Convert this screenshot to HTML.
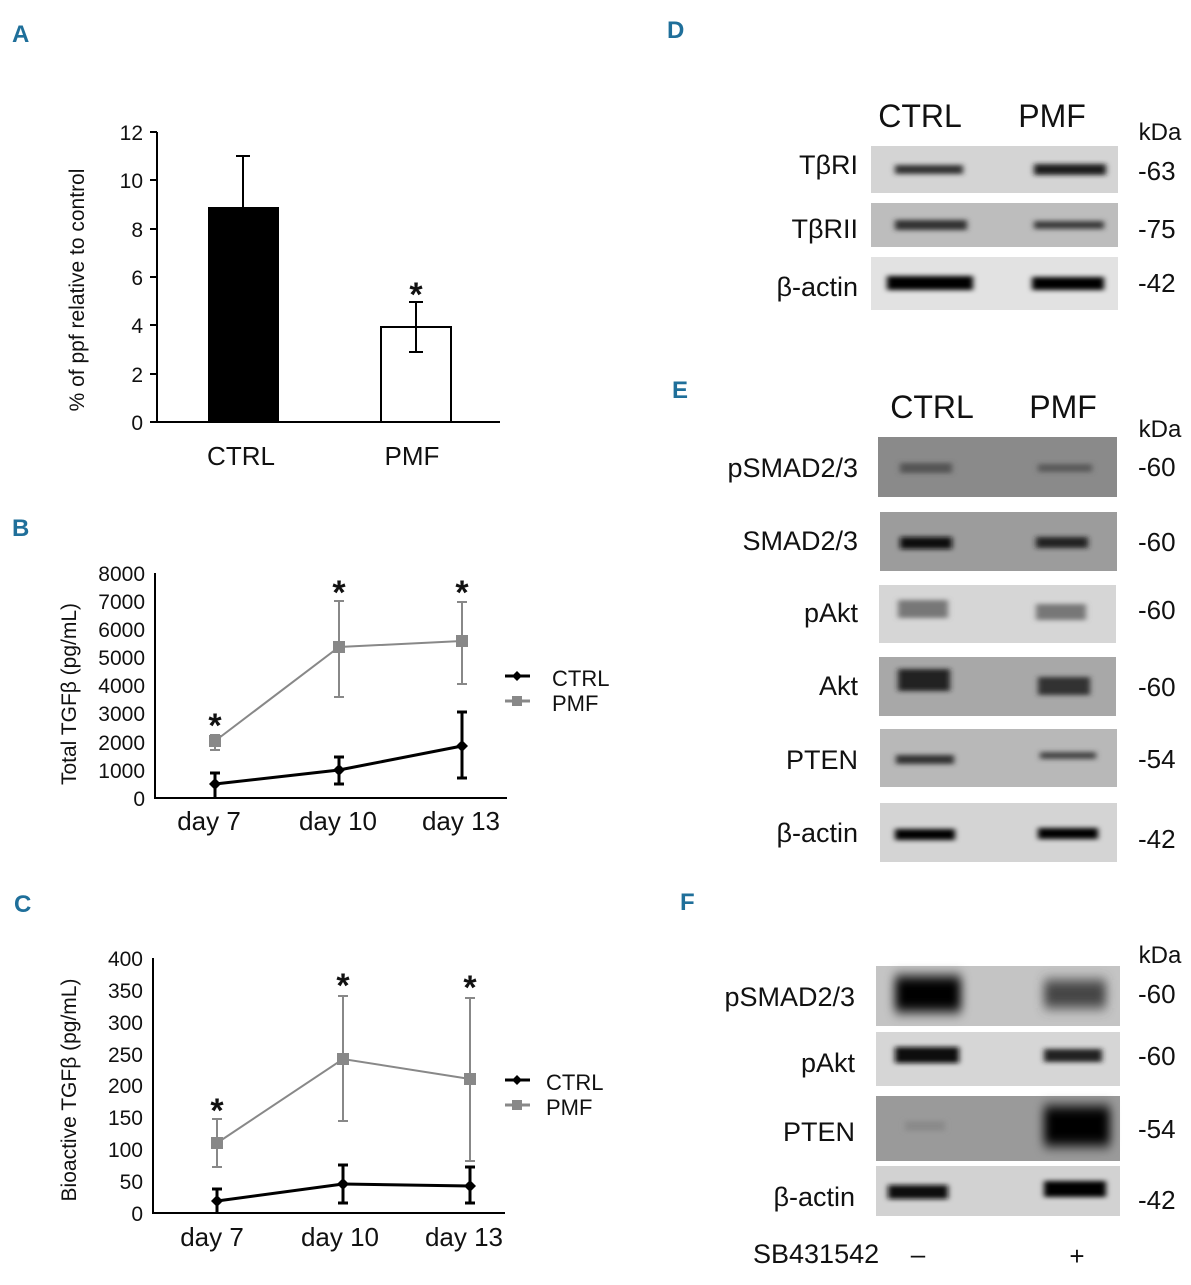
<!DOCTYPE html>
<html><head><meta charset="utf-8"><style>
body{margin:0;background:#fff}
text{font-family:"Liberation Sans Narrow","Liberation Sans",sans-serif;fill:#111}
.L{font-weight:bold;fill:#1f6f9a;font-size:24px}
.s{font-size:34px;font-weight:bold}
</style></head><body>
<svg width="1191" height="1280" viewBox="0 0 1191 1280" xmlns="http://www.w3.org/2000/svg">
<defs>
<filter id="b" x="-20%" y="-100%" width="140%" height="300%"><feGaussianBlur stdDeviation="3 2.5"/></filter>
<filter id="b2" x="-20%" y="-50%" width="140%" height="200%"><feGaussianBlur stdDeviation="5 6"/></filter>
</defs>
<rect width="1191" height="1280" fill="#fff"/>
<text class="L" x="12" y="42">A</text>
<text class="L" x="12" y="536">B</text>
<text class="L" x="14" y="912">C</text>
<text class="L" x="667" y="38">D</text>
<text class="L" x="672" y="398">E</text>
<text class="L" x="680" y="910">F</text>

<!-- A -->
<g stroke="#000" stroke-width="2" fill="none">
<path d="M157 132V422H500"/>
<path d="M150 132h7M150 180h7M150 229h7M150 277h7M150 325h7M150 374h7M150 422h7"/>
</g>
<g font-size="21" text-anchor="end">
<text x="143" y="140">12</text><text x="143" y="188">10</text><text x="143" y="237">8</text><text x="143" y="285">6</text><text x="143" y="333">4</text><text x="143" y="382">2</text><text x="143" y="430">0</text>
</g>
<text font-size="21" transform="translate(84,290) rotate(-90)" text-anchor="middle">% of ppf relative to control</text>
<rect x="208" y="207" width="71" height="215" fill="#000"/>
<path d="M243 207V156M236 156h14" stroke="#000" stroke-width="2"/>
<rect x="381" y="327" width="70" height="95" fill="#fff" stroke="#000" stroke-width="2"/>
<path d="M416 327V302M409 302h14M416 327V352M409 352h14" stroke="#000" stroke-width="2"/>
<text class="s" x="416" y="306" text-anchor="middle">*</text>
<text x="241" y="465" font-size="26" text-anchor="middle">CTRL</text>
<text x="412" y="465" font-size="26" text-anchor="middle">PMF</text>

<!-- B -->
<g stroke="#000" stroke-width="2" fill="none"><path d="M155 573V798H507"/></g>
<g font-size="21" text-anchor="end">
<text x="145" y="581">8000</text><text x="145" y="609">7000</text><text x="145" y="637">6000</text><text x="145" y="665">5000</text><text x="145" y="693">4000</text><text x="145" y="721">3000</text><text x="145" y="750">2000</text><text x="145" y="778">1000</text><text x="145" y="806">0</text>
</g>
<text font-size="21" transform="translate(76,694) rotate(-90)" text-anchor="middle">Total TGFβ (pg/mL)</text>
<g stroke="#888" stroke-width="2" fill="none">
<path d="M215 741L339 647L462 641"/>
<path d="M215 735V750M210 735h10M210 750h10M339 601V697M334 601h10M334 697h10M462 602V684M457 602h10M457 684h10"/>
</g>
<g fill="#888"><rect x="209" y="735" width="12" height="12"/><rect x="333" y="641" width="12" height="12"/><rect x="456" y="635" width="12" height="12"/></g>
<g stroke="#000" stroke-width="3" fill="none">
<path d="M215 784L339 770L462 746"/>
<path d="M215 798V773M210 773h10M339 784V757M334 784h10M334 757h10M462 778V712M457 778h10M457 712h10"/>
</g>
<g fill="#000"><path d="M215 778l6 6-6 6-6-6z"/><path d="M339 764l6 6-6 6-6-6z"/><path d="M462 740l6 6-6 6-6-6z"/></g>
<g class="s" text-anchor="middle"><text class="s" x="215" y="737">*</text><text class="s" x="339" y="604">*</text><text class="s" x="462" y="604">*</text></g>
<g font-size="26" text-anchor="middle"><text x="209" y="830">day 7</text><text x="338" y="830">day 10</text><text x="461" y="830">day 13</text></g>
<path d="M505 676h25" stroke="#000" stroke-width="3"/><path d="M517 671l5 5-5 5-5-5z"/>
<path d="M505 701h25" stroke="#888" stroke-width="3"/><rect x="512" y="696" width="10" height="10" fill="#888"/>
<text x="552" y="686" font-size="22">CTRL</text><text x="552" y="711" font-size="22">PMF</text>

<!-- C -->
<g stroke="#000" stroke-width="2" fill="none"><path d="M153 958V1213H505"/></g>
<g font-size="21" text-anchor="end">
<text x="143" y="966">400</text><text x="143" y="998">350</text><text x="143" y="1030">300</text><text x="143" y="1062">250</text><text x="143" y="1093">200</text><text x="143" y="1125">150</text><text x="143" y="1157">100</text><text x="143" y="1189">50</text><text x="143" y="1221">0</text>
</g>
<text font-size="21" transform="translate(76,1090) rotate(-90)" text-anchor="middle">Bioactive TGFβ (pg/mL)</text>
<g stroke="#888" stroke-width="2" fill="none">
<path d="M217 1143L343 1059L470 1079"/>
<path d="M217 1167V1119M212 1119h10M212 1167h10M343 1121V996M338 996h10M338 1121h10M470 1161V998M465 998h10M465 1161h10"/>
</g>
<g fill="#888"><rect x="211" y="1137" width="12" height="12"/><rect x="337" y="1053" width="12" height="12"/><rect x="464" y="1073" width="12" height="12"/></g>
<g stroke="#000" stroke-width="3" fill="none">
<path d="M217 1201L343 1184L470 1186"/>
<path d="M217 1213V1189M212 1189h10M343 1203V1165M338 1203h10M338 1165h10M470 1203V1167M465 1203h10M465 1167h10"/>
</g>
<g fill="#000"><path d="M217 1195l6 6-6 6-6-6z"/><path d="M343 1178l6 6-6 6-6-6z"/><path d="M470 1180l6 6-6 6-6-6z"/></g>
<g text-anchor="middle"><text class="s" x="217" y="1122">*</text><text class="s" x="343" y="997">*</text><text class="s" x="470" y="999">*</text></g>
<g font-size="26" text-anchor="middle"><text x="212" y="1246">day 7</text><text x="340" y="1246">day 10</text><text x="464" y="1246">day 13</text></g>
<path d="M505 1080h25" stroke="#000" stroke-width="3"/><path d="M517 1075l5 5-5 5-5-5z"/>
<path d="M505 1105h25" stroke="#888" stroke-width="3"/><rect x="512" y="1100" width="10" height="10" fill="#888"/>
<text x="546" y="1090" font-size="22">CTRL</text><text x="546" y="1115" font-size="22">PMF</text>

<!-- D -->
<text x="920" y="127" font-size="32" text-anchor="middle">CTRL</text>
<text x="1052" y="127" font-size="32" text-anchor="middle">PMF</text>
<text x="1160" y="140" font-size="24" text-anchor="middle">kDa</text>
<rect x="871" y="146" width="247" height="47" fill="#d4d4d4"/>
<rect x="895" y="165" width="68" height="9" fill="#333" filter="url(#b)"/>
<rect x="1034" y="164" width="72" height="11" fill="#1a1a1a" filter="url(#b)"/>
<rect x="871" y="203" width="247" height="44" fill="#bdbdbd"/>
<rect x="895" y="220" width="72" height="10" fill="#333" filter="url(#b)"/>
<rect x="1034" y="221" width="70" height="8" fill="#3a3a3a" filter="url(#b)"/>
<rect x="871" y="257" width="247" height="53" fill="#e2e2e2"/>
<rect x="887" y="276" width="86" height="14" fill="#000" filter="url(#b)"/>
<rect x="1032" y="277" width="72" height="13" fill="#000" filter="url(#b)"/>
<g font-size="27" text-anchor="end"><text x="858" y="174">TβRI</text><text x="858" y="238">TβRII</text><text x="858" y="296">β-actin</text></g>
<g font-size="26"><text x="1138" y="180">-63</text><text x="1138" y="238">-75</text><text x="1138" y="292">-42</text></g>

<!-- E -->
<text x="932" y="418" font-size="32" text-anchor="middle">CTRL</text>
<text x="1063" y="418" font-size="32" text-anchor="middle">PMF</text>
<text x="1160" y="437" font-size="24" text-anchor="middle">kDa</text>
<rect x="878" y="437" width="239" height="60" fill="#8a8a8a"/>
<rect x="900" y="463" width="52" height="10" fill="#555" filter="url(#b)"/>
<rect x="1038" y="464" width="54" height="8" fill="#5a5a5a" filter="url(#b)"/>
<rect x="880" y="512" width="237" height="59" fill="#9c9c9c"/>
<rect x="900" y="537" width="52" height="12" fill="#111" filter="url(#b)"/>
<rect x="1036" y="537" width="52" height="11" fill="#222" filter="url(#b)"/>
<rect x="879" y="585" width="237" height="58" fill="#d6d6d6"/>
<rect x="898" y="600" width="50" height="18" fill="#777" filter="url(#b)"/>
<rect x="1036" y="604" width="50" height="16" fill="#777" filter="url(#b)"/>
<rect x="879" y="657" width="237" height="59" fill="#a8a8a8"/>
<rect x="898" y="669" width="52" height="22" fill="#222" filter="url(#b)"/>
<rect x="1038" y="677" width="52" height="18" fill="#333" filter="url(#b)"/>
<rect x="880" y="729" width="237" height="58" fill="#b8b8b8"/>
<rect x="896" y="755" width="58" height="9" fill="#333" filter="url(#b)"/>
<rect x="1040" y="752" width="56" height="7" fill="#444" filter="url(#b)"/>
<rect x="880" y="803" width="237" height="59" fill="#d4d4d4"/>
<rect x="895" y="829" width="60" height="11" fill="#000" filter="url(#b)"/>
<rect x="1038" y="828" width="60" height="11" fill="#000" filter="url(#b)"/>
<g font-size="27" text-anchor="end"><text x="858" y="477">pSMAD2/3</text><text x="858" y="550">SMAD2/3</text><text x="858" y="622">pAkt</text><text x="858" y="695">Akt</text><text x="858" y="769">PTEN</text><text x="858" y="842">β-actin</text></g>
<g font-size="26"><text x="1138" y="476">-60</text><text x="1138" y="551">-60</text><text x="1138" y="619">-60</text><text x="1138" y="696">-60</text><text x="1138" y="768">-54</text><text x="1138" y="848">-42</text></g>

<!-- F -->
<text x="1160" y="963" font-size="24" text-anchor="middle">kDa</text>
<rect x="876" y="966" width="244" height="60" fill="#c4c4c4"/>
<rect x="895" y="976" width="66" height="36" fill="#000" filter="url(#b2)"/>
<rect x="1044" y="980" width="62" height="28" fill="#444" filter="url(#b2)"/>
<rect x="876" y="1032" width="244" height="54" fill="#d6d6d6"/>
<rect x="895" y="1047" width="64" height="16" fill="#111" filter="url(#b)"/>
<rect x="1044" y="1049" width="58" height="13" fill="#222" filter="url(#b)"/>
<rect x="876" y="1096" width="244" height="65" fill="#9a9a9a"/>
<rect x="905" y="1121" width="40" height="10" fill="#8a8a8a" filter="url(#b)"/>
<rect x="1044" y="1106" width="66" height="40" fill="#000" filter="url(#b2)"/>
<rect x="876" y="1166" width="244" height="50" fill="#d2d2d2"/>
<rect x="888" y="1185" width="60" height="14" fill="#111" filter="url(#b)"/>
<rect x="1044" y="1181" width="62" height="16" fill="#000" filter="url(#b)"/>
<g font-size="27" text-anchor="end"><text x="855" y="1006">pSMAD2/3</text><text x="855" y="1072">pAkt</text><text x="855" y="1141">PTEN</text><text x="855" y="1206">β-actin</text></g>
<g font-size="26"><text x="1138" y="1003">-60</text><text x="1138" y="1065">-60</text><text x="1138" y="1138">-54</text><text x="1138" y="1209">-42</text></g>
<text x="753" y="1263" font-size="27">SB431542</text>
<text x="918" y="1263" font-size="26" text-anchor="middle">–</text>
<text x="1077" y="1265" font-size="26" text-anchor="middle">+</text>
</svg>
</body></html>
